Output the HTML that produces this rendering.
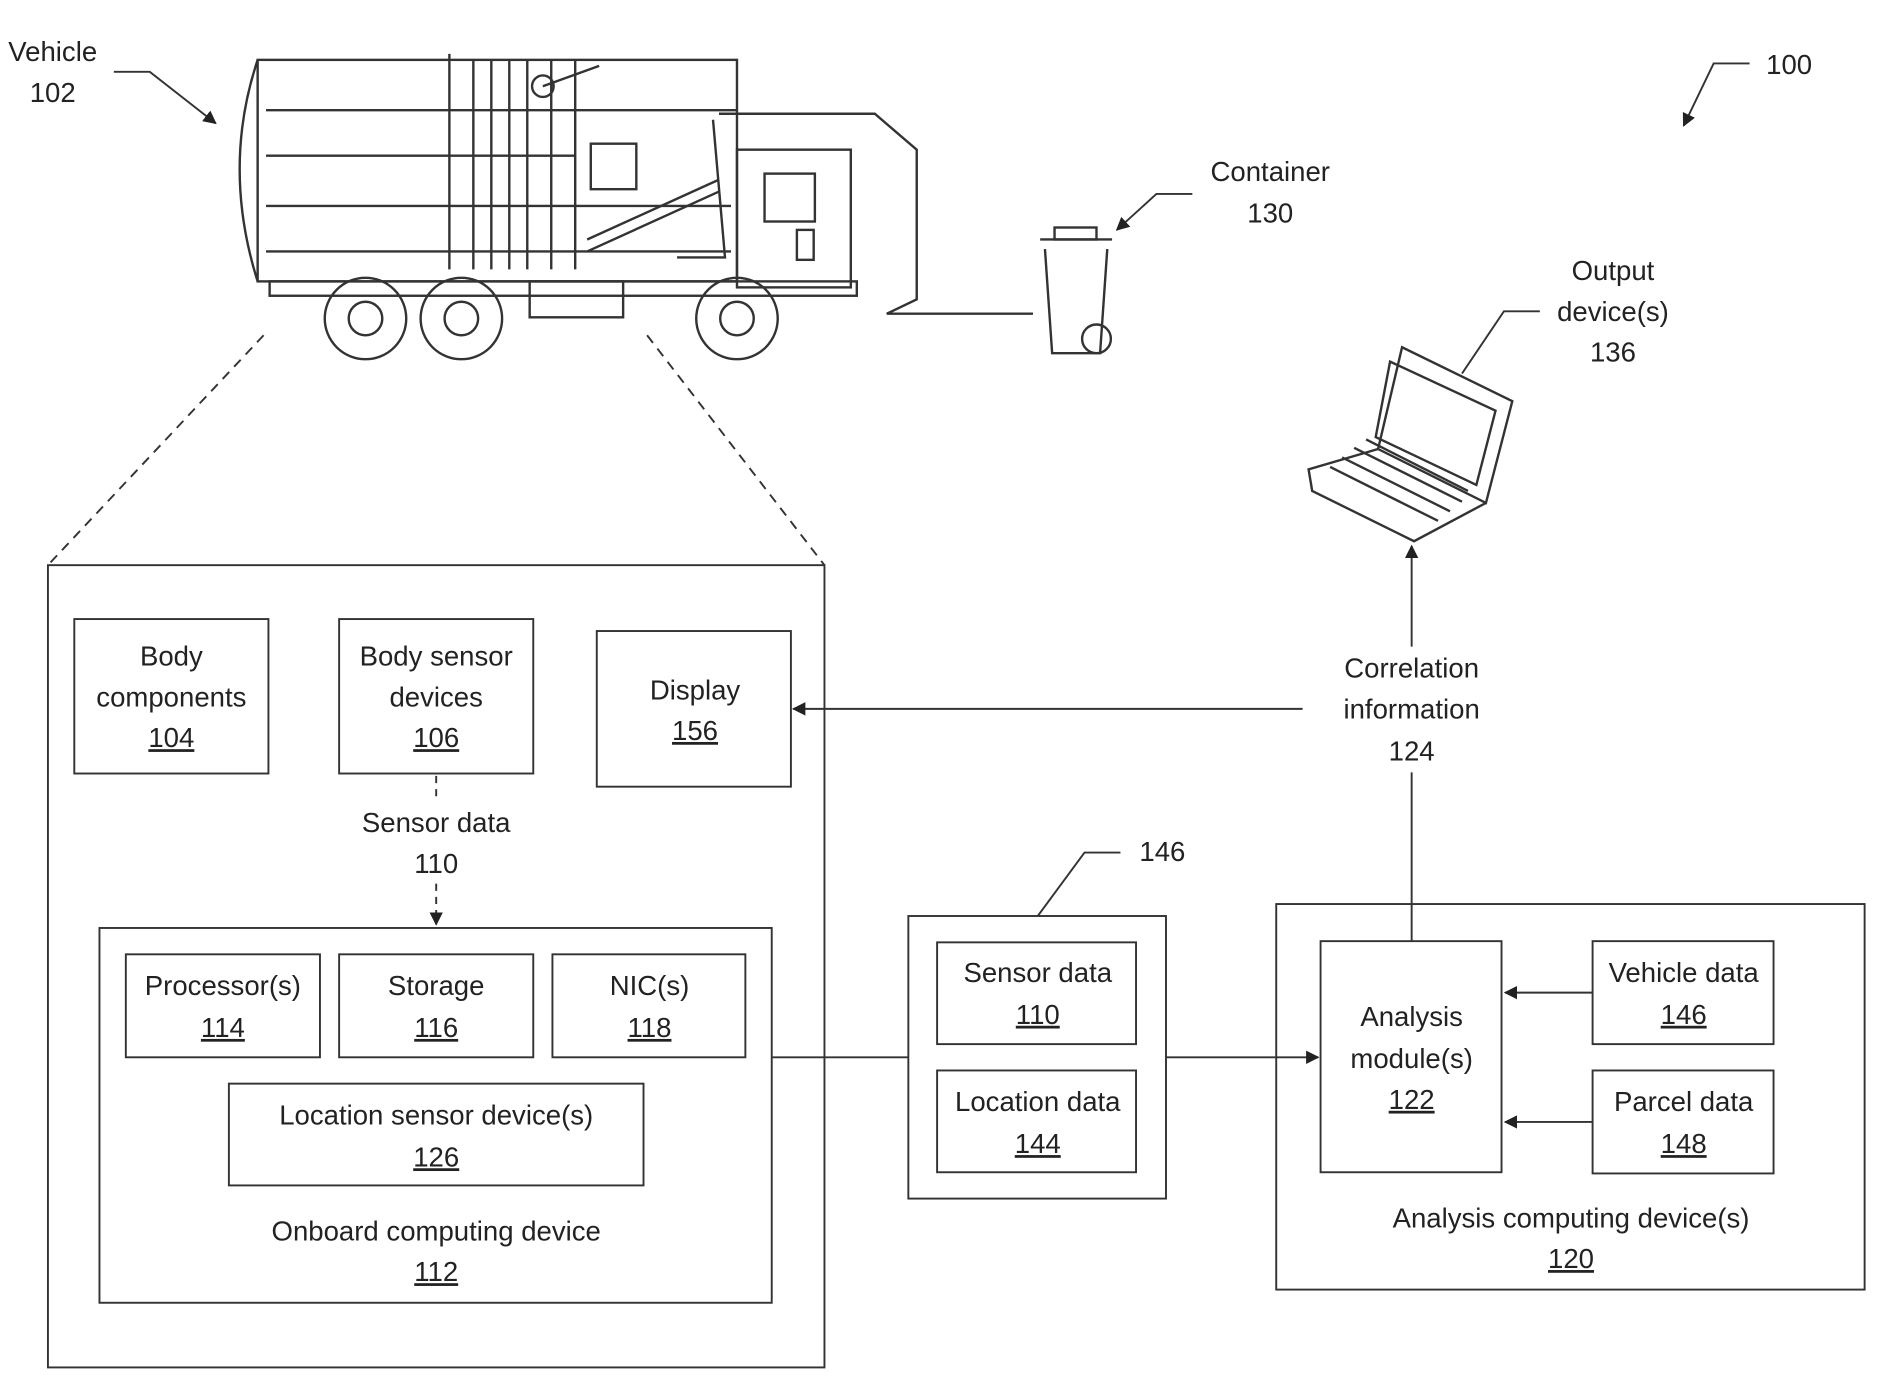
<!DOCTYPE html>
<html><head><style>html,body{margin:0;padding:0;background:#fff}svg{display:block}text{font-family:"Liberation Sans",Arial,sans-serif;font-size:23px;fill:#222;text-anchor:middle}</style></head>
<body>
<svg width="1879" height="1377" viewBox="0 0 1568 1150" preserveAspectRatio="none" xmlns="http://www.w3.org/2000/svg">
<defs><marker id="a" viewBox="0 0 10 10" refX="9" refY="5" markerWidth="7" markerHeight="7" orient="auto"><path d="M0,0 L10,5 L0,10 z" fill="#222"/></marker></defs>
<g fill="none" stroke="#333" stroke-width="2">
<!-- truck -->
<path d="M215,50 Q185,140 215,235" />
<rect x="215" y="50" width="400" height="185"/>
<path d="M222,92H615 M222,130H480 M222,172H610 M222,210H610"/>
<path d="M375,45V225 M395,50V225 M410,50V225 M425,50V225 M440,50V225 M460,50V225 M480,50V225"/>
<circle cx="453" cy="72" r="9"/><path d="M453,72 L500,55"/>
<rect x="493" y="120" width="38" height="38"/>
<path d="M490,200 L600,150 M490,210 L600,160"/>
<rect x="615" y="125" width="95" height="115"/>
<rect x="638" y="145" width="42" height="40"/><rect x="665" y="192" width="14" height="25"/>
<path d="M600,95 H730 L765,125 V250 L740,262 H862 M595,100 L605,215 L565,215"/>
<rect x="225" y="235" width="490" height="12"/>
<rect x="442" y="235" width="78" height="30"/>
<circle cx="305" cy="266" r="34"/><circle cx="305" cy="266" r="14"/>
<circle cx="385" cy="266" r="34"/><circle cx="385" cy="266" r="14"/>
<circle cx="615" cy="266" r="34"/><circle cx="615" cy="266" r="14"/>
<!-- container -->
<path d="M868,200 H928 M872,208 L878,295 H918 L924,208"/><circle cx="915" cy="283" r="12"/><rect x="880" y="190" width="35" height="10"/>
<!-- laptop -->
<path d="M1170,290 L1262,335 L1240,420 L1150,375 Z M1160,302 L1248,343 L1232,405 L1148,365 Z"/>
<path d="M1150,375 L1092,392 L1095,410 L1180,452 L1240,420 M1095,410 L1092,392"/>
<path d="M1110,390 L1200,435 M1120,382 L1210,427 M1130,374 L1220,419 M1140,367 L1225,410"/>
</g>
<g fill="none" stroke="#333" stroke-width="1.6">
<path d="M95,60 H125 L180,103" marker-end="url(#a)"/>
<path d="M995,162 H965 L932,192" marker-end="url(#a)"/>
<path d="M1460,53 H1430 L1405,105" marker-end="url(#a)"/>
<path d="M1285,260 H1255 L1220,312"/>
<path d="M220,280 L40,472 M540,280 L688,472" stroke-dasharray="8,6"/>
<rect x="40" y="472" width="648" height="670"/>
<rect x="62" y="517" width="162" height="129"/>
<rect x="283" y="517" width="162" height="129"/>
<rect x="498" y="527" width="162" height="130"/>
<path d="M364,648 V668 M364,738 V772" stroke-dasharray="6,5" marker-end="url(#a)"/>
<rect x="83" y="775" width="561" height="313"/>
<rect x="105" y="797" width="162" height="86"/>
<rect x="283" y="797" width="162" height="86"/>
<rect x="461" y="797" width="161" height="86"/>
<rect x="191" y="905" width="346" height="85"/>
<rect x="758" y="765" width="215" height="236"/>
<rect x="782" y="787" width="166" height="85"/>
<rect x="782" y="894" width="166" height="85"/>
<path d="M866,765 L905,712 H935"/>
<rect x="1065" y="755" width="491" height="322"/>
<rect x="1102" y="786" width="151" height="193"/>
<rect x="1329" y="786" width="151" height="86"/>
<rect x="1329" y="894" width="151" height="86"/>
<path d="M644,883 H758"/>
<path d="M973,883 H1100" marker-end="url(#a)"/>
<path d="M1329,829 H1256" marker-end="url(#a)"/>
<path d="M1329,937 H1256" marker-end="url(#a)"/>
<path d="M1178,786 V645"/>
<path d="M1178,540 V456" marker-end="url(#a)"/>
<path d="M1087,592 H662" marker-end="url(#a)"/>
</g>
<text x="44" y="51">Vehicle</text><text x="44" y="85">102</text>
<text x="1060" y="151">Container</text><text x="1060" y="186">130</text>
<text x="1493" y="62">100</text>
<text x="1346" y="234">Output</text><text x="1346" y="268">device(s)</text><text x="1346" y="302">136</text>
<text x="143" y="556">Body</text><text x="143" y="590">components</text><text x="143" y="624" text-decoration="underline">104</text>
<text x="364" y="556">Body sensor</text><text x="364" y="590">devices</text><text x="364" y="624" text-decoration="underline">106</text>
<text x="580" y="584">Display</text><text x="580" y="618" text-decoration="underline">156</text>
<text x="364" y="695">Sensor data</text><text x="364" y="729">110</text>
<text x="186" y="831">Processor(s)</text><text x="186" y="866" text-decoration="underline">114</text>
<text x="364" y="831">Storage</text><text x="364" y="866" text-decoration="underline">116</text>
<text x="542" y="831">NIC(s)</text><text x="542" y="866" text-decoration="underline">118</text>
<text x="364" y="939">Location sensor device(s)</text><text x="364" y="974" text-decoration="underline">126</text>
<text x="364" y="1036">Onboard computing device</text><text x="364" y="1070" text-decoration="underline">112</text>
<text x="970" y="719">146</text>
<text x="866" y="820">Sensor data</text><text x="866" y="855" text-decoration="underline">110</text>
<text x="866" y="928">Location data</text><text x="866" y="963" text-decoration="underline">144</text>
<text x="1178" y="566">Correlation</text><text x="1178" y="600">information</text><text x="1178" y="635">124</text>
<text x="1178" y="857">Analysis</text><text x="1178" y="892">module(s)</text><text x="1178" y="926" text-decoration="underline">122</text>
<text x="1405" y="820">Vehicle data</text><text x="1405" y="855" text-decoration="underline">146</text>
<text x="1405" y="928">Parcel data</text><text x="1405" y="963" text-decoration="underline">148</text>
<text x="1311" y="1025">Analysis computing device(s)</text><text x="1311" y="1059" text-decoration="underline">120</text>
</svg>
</body></html>
